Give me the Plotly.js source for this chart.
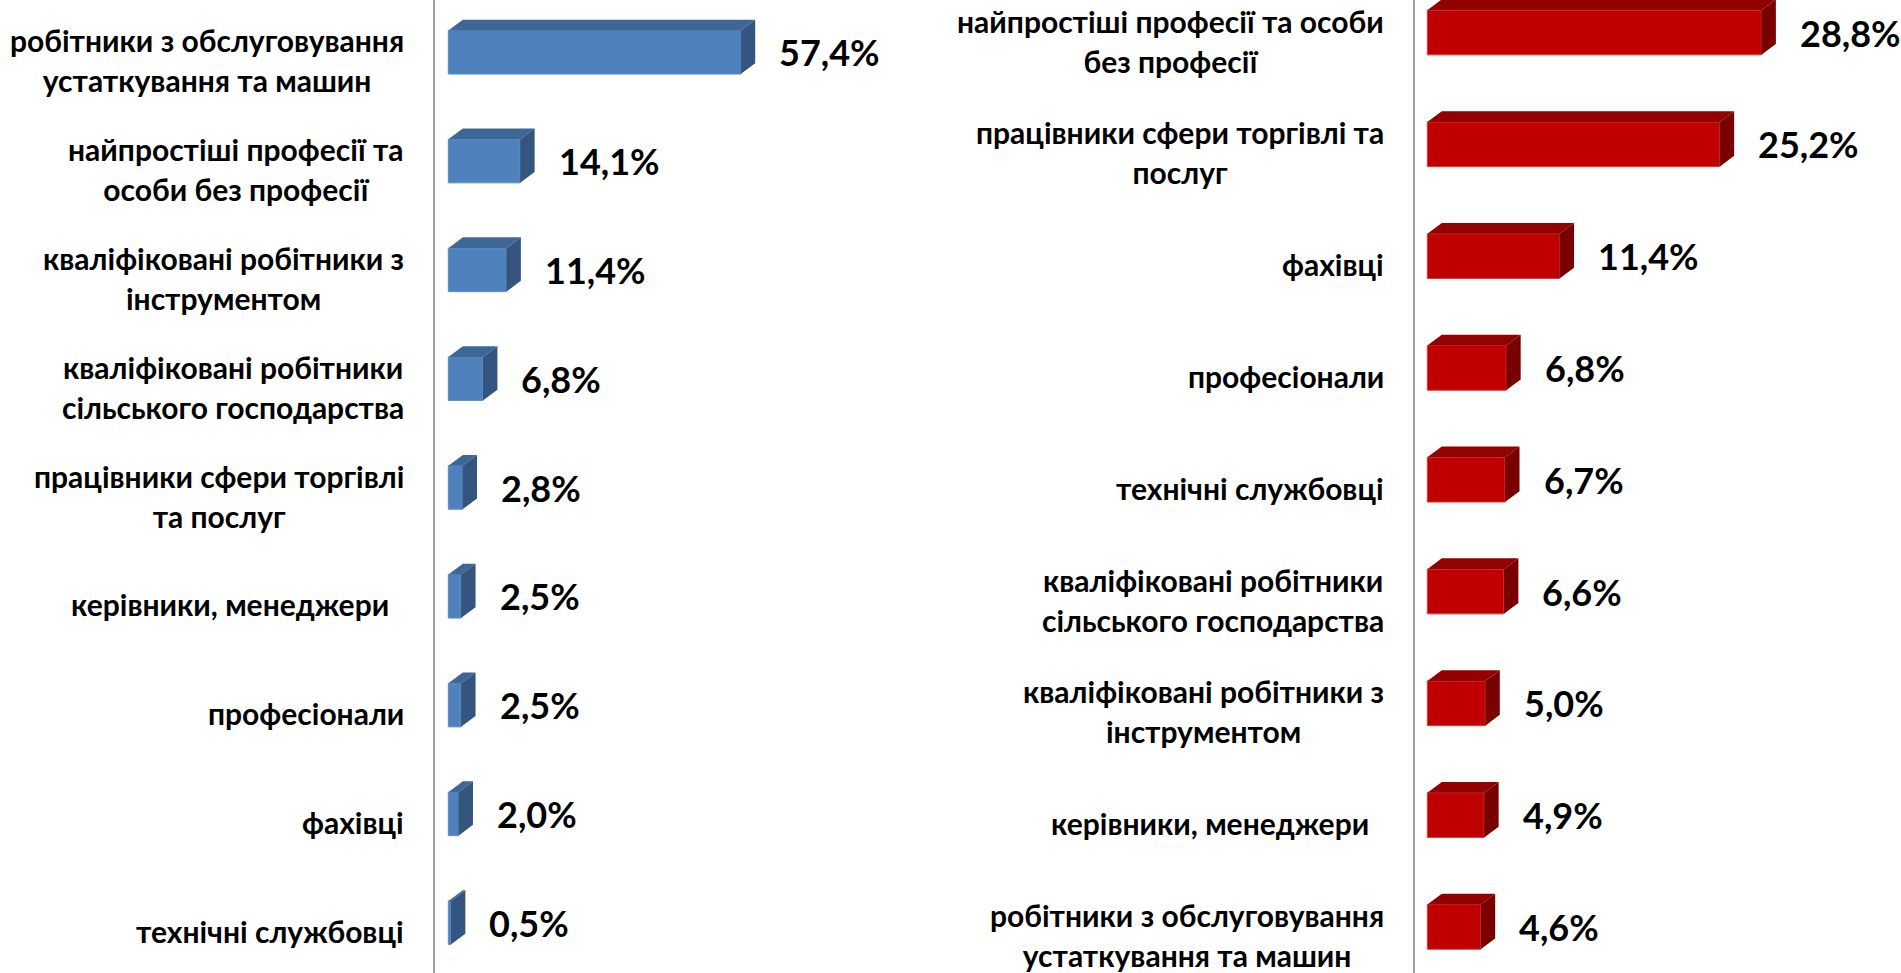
<!DOCTYPE html>
<html><head><meta charset="utf-8">
<script src="https://cdn.plot.ly/plotly-3.0.1.min.js"></script>
<style>html,body{margin:0;padding:0;background:#fff;overflow:hidden}#chart{width:1901px;height:973px}</style>
</head><body><div id="chart"></div>
<script>
// ---- data ----
const leftCategories = [
  "робітники з обслуговування<br>устаткування та машин",
  "найпростіші професії та<br>особи без професії",
  "кваліфіковані робітники з<br>інструментом",
  "кваліфіковані робітники<br>сільського господарства",
  "працівники сфери торгівлі<br>та послуг",
  "керівники, менеджери\u00A0\u00A0",
  "професіонали",
  "фахівці",
  "технічні службовці"
];
const leftValues = [57.4, 14.1, 11.4, 6.8, 2.8, 2.5, 2.5, 2.0, 0.5];

const rightCategories = [
  "найпростіші професії та особи<br>без професії",
  "працівники сфери торгівлі та<br>послуг",
  "фахівці",
  "професіонали",
  "технічні службовці",
  "кваліфіковані робітники<br>сільського господарства",
  "кваліфіковані робітники з<br>інструментом",
  "керівники, менеджери\u00A0\u00A0",
  "робітники з обслуговування<br>устаткування та машин"
];
const rightValues = [28.8, 25.2, 11.4, 6.8, 6.7, 6.6, 5.0, 4.9, 4.6];

// ---- style / layout constants ----
const W = 1901, H = 973;
const FONT = 'Lato';
const CAT_SIZE = 30, CAT_LINE = 31, VAL_SIZE = 36;
const DEPTH_PX = 14.5, DEPTH_PY = 10.8, BAR_W = 0.4;
const VAL_GAP = 22, CAT_GAP = 29, CAT_YSHIFT = -8;

const panels = [
  {cats: leftCategories, vals: leftValues, xa: 'x', ya: 'y', axLeft: 435, zero: 448.3, right: 950,
   ppu: 5.094, yFirst: 52.3, step: 108.8,
   front: '#4F81BD', top: '#3E6796', side: '#33557F', edge: '#5E8DC6'},
  {cats: rightCategories, vals: rightValues, xa: 'x2', ya: 'y2', axLeft: 1415, zero: 1427.3, right: 1901,
   ppu: 11.6, yFirst: 32.5, step: 111.8,
   front: '#C00000', top: '#930000', side: '#780000', edge: '#DA3C3C'}
];

const traces = [], shapes = [], annotations = [];
const layout = {
  width: W, height: H, margin: {l: 0, r: 0, t: 0, b: 0},
  paper_bgcolor: '#fff', plot_bgcolor: 'rgba(0,0,0,0)', showlegend: false,
  font: {family: FONT, color: '#000'}
};

function fmt(v) { return v.toFixed(1).replace('.', ',') + '%'; }

panels.forEach((p, k) => {
  const idx = p.cats.map((_, i) => i);
  const xName = k === 0 ? 'xaxis' : 'xaxis2';
  const yName = k === 0 ? 'yaxis' : 'yaxis2';
  const xmin = -(p.zero - p.axLeft) / p.ppu;
  const xmax = (p.right - p.zero) / p.ppu;
  const ymin = -p.yFirst / p.step;
  const ymax = (H - p.yFirst) / p.step;
  layout[xName] = {domain: [p.axLeft / W, p.right / W], range: [xmin, xmax], anchor: p.ya,
    showgrid: false, zeroline: false, showticklabels: false, ticks: '', showline: false, fixedrange: true};
  layout[yName] = {domain: [0, 1], range: [ymax, ymin], anchor: p.xa,
    showgrid: false, zeroline: false, showticklabels: false, ticks: '',
    showline: true, linecolor: '#A2A2A2', linewidth: 2, fixedrange: true};

  traces.push({type: 'bar', orientation: 'h', x: p.vals, y: idx, width: BAR_W,
    xaxis: p.xa, yaxis: p.ya, hoverinfo: 'skip',
    marker: {color: p.front, line: {color: p.edge, width: 1}}});

  const dx = DEPTH_PX / p.ppu, dy = DEPTH_PY / p.step;
  p.vals.forEach((v, i) => {
    const t = i - BAR_W / 2, b = i + BAR_W / 2;
    shapes.push({type: 'path', xref: p.xa, yref: p.ya, layer: 'above',
      path: `M 0,${t} L ${v},${t} L ${v + dx},${t - dy} L ${dx},${t - dy} Z`,
      fillcolor: p.top, line: {width: 0}});
    shapes.push({type: 'path', xref: p.xa, yref: p.ya, layer: 'above',
      path: `M ${v},${t} L ${v + dx},${t - dy} L ${v + dx},${b - dy} L ${v},${b} Z`,
      fillcolor: p.side, line: {width: 0}});
    annotations.push({xref: p.xa, yref: p.ya, x: v, y: i, xanchor: 'left', yanchor: 'middle',
      xshift: DEPTH_PX + VAL_GAP, showarrow: false, text: fmt(v),
      font: {family: FONT, size: VAL_SIZE, color: '#000', weight: 700}});
  });

  p.cats.forEach((c, i) => {
    const txt = c.split('<br>').map(l => `<span style="font-size:${CAT_SIZE}px">${l}</span>`).join('<br>');
    annotations.push({xref: p.xa, yref: p.ya, x: xmin, y: i, xanchor: 'right', yanchor: 'middle',
      xshift: -CAT_GAP, yshift: CAT_YSHIFT, align: 'center', showarrow: false, text: txt,
      font: {family: FONT, size: CAT_LINE, color: '#000', weight: 700}});
  });
});

layout.shapes = shapes;
layout.annotations = annotations;
Plotly.newPlot('chart', traces, layout, {displayModeBar: false, staticPlot: true});
</script></body></html>
